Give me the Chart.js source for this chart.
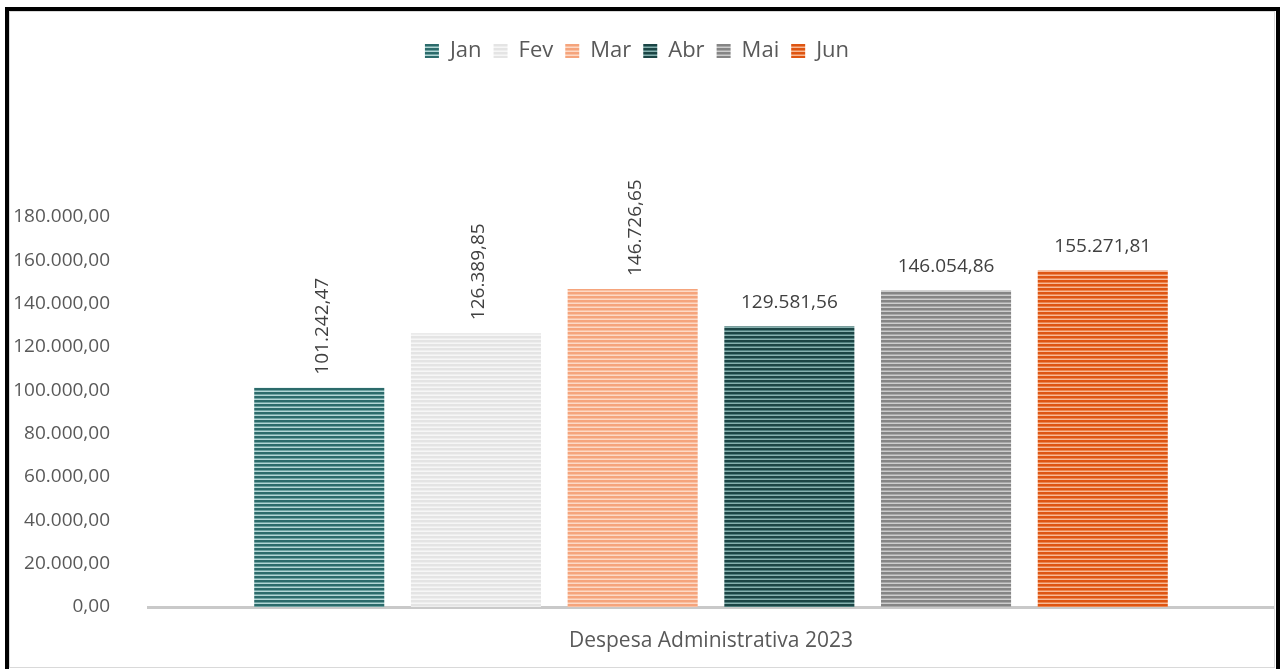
<!DOCTYPE html>
<html>
<head>
<meta charset="utf-8">
<script src="https://cdn.jsdelivr.net/npm/chart.js@4.4.1/dist/chart.umd.min.js"></script>
<style>
  html, body { margin: 0; padding: 0; background: #fff; }
  #wrap { position: relative; width: 1283px; height: 669px; overflow: hidden; }
  #myChart { position: absolute; left: 0; top: 0; }
  #frame { position: absolute; left: 5px; top: 7px; width: 1275px; height: 700px; border: 4px solid #000; box-sizing: border-box; pointer-events: none; }
  #inner { position: absolute; left: 9px; top: 11px; width: 1266px; height: 657px; border: 1px solid #d9d9d9; box-sizing: border-box; pointer-events: none; }
</style>
</head>
<body>
<div id="wrap">
  <canvas id="myChart" width="1283" height="669"></canvas>
  <div id="inner"></div>
  <div id="frame"></div>
</div>
<script>
// Data
const categories = ['Despesa Administrativa 2023'];
const months = ['Jan', 'Fev', 'Mar', 'Abr', 'Mai', 'Jun'];
const values = [101242.47, 126389.85, 146726.65, 129581.56, 146054.86, 155271.81];
const yTicks = [0, 20000, 40000, 60000, 80000, 100000, 120000, 140000, 160000, 180000];

// stripe colours per month [dark, mid, light]
const stripeColors = [
    ['#2c6b6b', '#6fa3a2', '#b3d6d5'],
    ['#e4e4e4', '#eeeeee', '#f6f6f6'],
    ['#f5a47c', '#f9c0a2', '#fdd9c6'],
    ['#1b4545', '#4f7e7d', '#86b0ae'],
    ['#858585', '#a8a8a8', '#cdcdcd'],
    ['#de5512', '#ec8650', '#f7b996']
];
// Jan..Mar labels are drawn vertically, the rest horizontally
const rotatedLabel = [true, true, true, false, false, false];

const FONT = '"Open Sans", "DejaVu Sans", sans-serif';
const TEXT = '#595959';

// pt-BR number format: 155.271,81
function fmt(v) {
    const parts = v.toFixed(2).split('.');
    const int = parts[0].replace(/\B(?=(\d{3})+(?!\d))/g, '.');
    return int + ',' + parts[1];
}

function stripes(c) {
    const cv = document.createElement('canvas');
    cv.width = 8; cv.height = 4;
    const g = cv.getContext('2d');
    g.fillStyle = c[0]; g.fillRect(0, 0, 8, 2);
    g.fillStyle = c[1]; g.fillRect(0, 2, 8, 1);
    g.fillStyle = c[2]; g.fillRect(0, 3, 8, 1);
    return g.createPattern(cv, 'repeat');
}

// push plot area down below the legend
const legendSpace = {
    id: 'legendSpace',
    beforeInit(chart) {
        const fit = chart.legend.fit;
        chart.legend.fit = function () {
            fit.bind(chart.legend)();
            this.height = 189;
        };
    }
};

// value labels above the bars
const barLabels = {
    id: 'barLabels',
    afterDatasetsDraw(chart) {
        const c = chart.ctx;
        c.save();
        c.font = '19px ' + FONT;
        c.fillStyle = '#404040';
        chart.data.datasets.forEach((ds, i) => {
            const bar = chart.getDatasetMeta(i).data[0];
            const txt = fmt(ds.data[0]);
            if (rotatedLabel[i]) {
                c.save();
                c.translate(bar.x + 3, bar.y - 13);
                c.rotate(-Math.PI / 2);
                c.textAlign = 'left';
                c.textBaseline = 'middle';
                c.fillText(txt, 0, 0);
                c.restore();
            } else {
                c.textAlign = 'center';
                c.textBaseline = 'middle';
                c.fillText(txt, bar.x, bar.y - 24);
            }
        });
        c.restore();
    }
};

const ctx = document.getElementById('myChart').getContext('2d');

const myChart = new Chart(ctx, {
    type: 'bar',
    data: {
        labels: categories,
        datasets: months.map((m, i) => ({
            label: m,
            data: [values[i]],
            backgroundColor: stripes(stripeColors[i]),
            borderWidth: 0,
            categoryPercentage: 0.835,
            barPercentage: 0.83
        }))
    },
    options: {
        responsive: false,
        animation: false,
        layout: { padding: { top: 28, right: 9, left: 0, bottom: 0 } },
        plugins: {
            tooltip: { enabled: false },
            legend: {
                position: 'top',
                labels: {
                    font: { family: FONT, size: 22 },
                    color: TEXT,
                    boxWidth: 14,
                    boxHeight: 14,
                    padding: 12
                }
            }
        },
        scales: {
            x: {
                grid: { display: false, drawTicks: false },
                border: { display: true, color: '#c9c9c9', width: 3 },
                ticks: { color: TEXT, font: { family: FONT, size: 21 }, padding: 21 },
                afterFit(scale) { scale.height = 62; }
            },
            y: {
                min: 0,
                max: 180000,
                grid: { display: false, drawTicks: false },
                border: { display: false },
                afterBuildTicks(scale) { scale.ticks = yTicks.map(v => ({ value: v })); },
                ticks: {
                    color: TEXT,
                    font: { family: FONT, size: 19 },
                    padding: 38,
                    callback: (v) => fmt(v)
                },
                afterFit(scale) { scale.width = 148; }
            }
        }
    },
    plugins: [legendSpace, barLabels]
});
</script>
</body>
</html>
